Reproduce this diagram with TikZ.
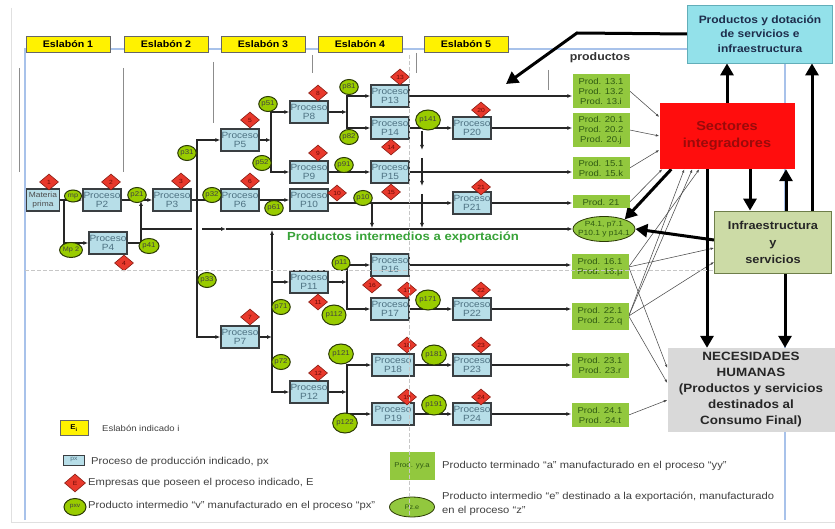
\documentclass[tikz,border=0pt]{standalone}
\usepackage{fontspec}
\setmainfont{Liberation Sans}[FakeStretch=1.12]
\usetikzlibrary{shapes.geometric,arrows.meta,calc}
\definecolor{procfill}{HTML}{B7DEE8}
\definecolor{proctext}{HTML}{4E7282}
\definecolor{procline}{HTML}{3A3F42}
\definecolor{intfill}{HTML}{99CC00}
\definecolor{intline}{HTML}{2B3A05}
\definecolor{empfill}{HTML}{E8392C}
\definecolor{empline}{HTML}{8A1C12}
\definecolor{emptext}{HTML}{6A0A05}
\definecolor{prodfill}{HTML}{92C83E}
\definecolor{prodtext}{HTML}{2F5A12}
\definecolor{sectred}{HTML}{FF0D0D}
\definecolor{secttext}{HTML}{9A0A0A}
\definecolor{pdfill}{HTML}{93E1EA}
\definecolor{pdline}{HTML}{62AEB9}
\definecolor{pdtext}{HTML}{1E2D4C}
\definecolor{isfill}{HTML}{CCDBA6}
\definecolor{isline}{HTML}{6E7E4A}
\definecolor{nhfill}{HTML}{D9D9D9}
\definecolor{frameblue}{HTML}{A8C2EA}
\definecolor{expgreen}{HTML}{38A338}
\definecolor{sepgray}{HTML}{8C8C8C}
\definecolor{legtext}{HTML}{404040}
\pgfdeclarelayer{bg}\pgfdeclarelayer{fg}\pgfsetlayers{bg,main,fg}
\tikzset{
 proc/.style={draw=procline, line width=1.3pt, fill=procfill, minimum width=38pt, minimum height=22pt, inner sep=0pt, align=center, text=proctext, font=\fontsize{9}{9.5}\selectfont},
 emp/.style={diamond, draw=empline, line width=0.6pt, fill=empfill, minimum width=19pt, minimum height=16pt, inner sep=0pt, text=emptext, font=\fontsize{6}{6}\selectfont},
 intp/.style={ellipse, draw=intline, line width=1pt, fill=intfill, minimum width=18pt, minimum height=15pt, inner sep=0pt, text=black!75, font=\fontsize{7}{7}\selectfont},
 intpL/.style={intp, minimum width=24pt, minimum height=20pt},
 prodbox/.style={fill=prodfill, minimum width=57pt, inner sep=1.5pt, align=center, text=prodtext, font=\fontsize{8.5}{10}\selectfont},
 eslab/.style={draw=black!60, line width=0.8pt, fill=yellow, minimum width=84pt, minimum height=16pt, inner sep=0pt, font=\bfseries\fontsize{9.5}{10}\selectfont},
 arr/.style={line width=1.1pt, draw=black!85, -{Latex[length=5pt,width=4pt]}},
 ln/.style={line width=1.1pt, draw=black!85},
 thinarr/.style={line width=0.55pt, draw=black!70, -{Latex[length=3.5pt,width=2.5pt]}},
 big/.style={line width=3pt, draw=black, -{Triangle[length=12pt,width=13pt]}},
 sep/.style={line width=0.9pt, draw=sepgray},
 guide/.style={line width=0.8pt, draw=black!22, dash pattern=on 4pt off 2pt},
 legt/.style={anchor=west, text=legtext, inner sep=0pt, font=\fontsize{10}{14}\selectfont, align=left},
}
\begin{document}
\begin{tikzpicture}[x=1pt,y=-1pt]
\useasboundingbox (0,0) rectangle (835,529);

% ---------- Eslabones ----------
\node[eslab] (E1) at (68,44) {Eslabón 1};
\node[eslab] (E2) at (166,44) {Eslabón 2};
\node[eslab] (E3) at (263,44) {Eslabón 3};
\node[eslab] (E4) at (360,44) {Eslabón 4};
\node[eslab] (E5) at (466,44) {Eslabón 5};

% ---------- processes ----------
\node[proc, minimum width=33pt, text=black!70, font=\fontsize{7.5}{8.5}\selectfont] (MP) at (43,200) {Materia\\prima};
\node[proc] (P2) at (102,200) {Proceso\\P2};
\node[proc] (P3) at (172,200) {Proceso\\P3};
\node[proc] (P4) at (108,243) {Proceso\\P4};
\node[proc] (P5) at (240,140) {Proceso\\P5};
\node[proc] (P6) at (240,200) {Proceso\\P6};
\node[proc] (P7) at (240,337) {Proceso\\P7};
\node[proc] (P8) at (309,112) {Proceso\\P8};
\node[proc] (P9) at (309,172) {Proceso\\P9};
\node[proc] (P10) at (309,200) {Proceso\\P10};
\node[proc] (P11) at (309,282) {Proceso\\P11};
\node[proc] (P12) at (309,392) {Proceso\\P12};
\node[proc] (P13) at (390,96) {Proceso\\P13};
\node[proc] (P14) at (390,128) {Proceso\\P14};
\node[proc] (P15) at (390,172) {Proceso\\P15};
\node[proc] (P16) at (390,265) {Proceso\\P16};
\node[proc] (P17) at (390,309) {Proceso\\P17};
\node[proc, minimum width=42pt] (P18) at (393,365) {Proceso\\P18};
\node[proc, minimum width=42pt] (P19) at (393,414) {Proceso\\P19};
\node[proc] (P20) at (472,128) {Proceso\\P20};
\node[proc] (P21) at (472,203) {Proceso\\P21};
\node[proc] (P22) at (472,309) {Proceso\\P22};
\node[proc] (P23) at (472,365) {Proceso\\P23};
\node[proc] (P24) at (472,414) {Proceso\\P24};

% ---------- intermediate products ----------
\node[intp, minimum width=17pt, minimum height=12pt, font=\fontsize{6.5}{6.5}\selectfont] (imp) at (73,196) {mp};
\node[intp, minimum width=22pt, font=\fontsize{6.5}{6.5}\selectfont] (imp2) at (71,250) {Mp 2};
\node[intp] (i21) at (137,195) {p21};
\node[intp, minimum width=20pt] (i41) at (149,246) {p41};
\node[intp] (i31) at (187,153) {p31};
\node[intp] (i32) at (212,195) {p32};
\node[intp] (i33) at (207,280) {p33};
\node[intp] (i51) at (268,104) {p51};
\node[intp] (i52) at (262,163) {p52};
\node[intp] (i61) at (274,208) {p61};
\node[intp] (i71) at (281,307) {p71};
\node[intp] (i72) at (281,362) {p72};
\node[intp] (i81) at (349,87) {p81};
\node[intp] (i82) at (349,137) {p82};
\node[intp] (i91) at (344,165) {p91};
\node[intp] (i10) at (363,198) {p10};
\node[intp] (i11) at (341,263) {p11};
\node[intpL] (i112) at (334,315) {p112};
\node[intpL] (i121) at (341,354) {p121};
\node[intpL] (i122) at (345,423) {p122};
\node[intpL] (i141) at (428,120) {p141};
\node[intpL] (i171) at (428,300) {p171};
\node[intpL] (i181) at (434,355) {p181};
\node[intpL] (i191) at (434,405) {p191};

% ---------- firms (diamonds) ----------
\node[emp] (d1) at (49,182) {1};
\node[emp] (d2) at (111,182) {2};
\node[emp] (d3) at (181,181) {3};
\node[emp] (d4) at (124,263) {4};
\node[emp] (d5) at (250,120) {5};
\node[emp] (d6) at (250,181) {6};
\node[emp] (d7) at (250,317) {7};
\node[emp] (d8) at (318,93) {8};
\node[emp] (d9) at (318,153) {9};
\node[emp] (d10) at (337,193) {10};
\node[emp] (d11) at (318,302) {11};
\node[emp] (d12) at (318,373) {12};
\node[emp] (d13) at (400,77) {13};
\node[emp] (d14) at (391,147) {14};
\node[emp] (d15) at (391,192) {15};
\node[emp] (d16) at (372,285) {16};
\node[emp] (d17) at (407,290) {17};
\node[emp] (d18) at (407,345) {18};
\node[emp] (d19) at (407,397) {19};
\node[emp] (d20) at (481,110) {20};
\node[emp] (d21) at (481,187) {21};
\node[emp] (d22) at (481,290) {22};
\node[emp] (d23) at (481,345) {23};
\node[emp] (d24) at (481,397) {24};

% ---------- final products ----------
\node[font=\bfseries\fontsize{11}{11}\selectfont, text=black!80] (prodlbl) at (600,58) {productos};
\node[prodbox, minimum height=34pt] (PR13) at (601,91) {Prod. 13.1\\Prod. 13.2\\Prod. 13.i};
\node[prodbox, minimum height=34pt] (PR20) at (601,130) {Prod. 20.1\\Prod. 20.2\\Prod. 20.j};
\node[prodbox, minimum height=22pt] (PR15) at (601,168) {Prod. 15.1\\Prod. 15.k};
\node[prodbox, minimum height=13pt] (PR21) at (601,202) {Prod. 21};
\node[ellipse, draw=intline, line width=0.8pt, fill=prodfill, minimum width=62pt, minimum height=25pt, inner xsep=-4pt, inner ysep=0pt, align=center, text=prodtext, font=\fontsize{7.5}{8.5}\selectfont] (EXP) at (604,229) {P4.1, p7.1\\P10.1 y p14.1};
\node[prodbox, minimum height=25pt] (PR16) at (600,267) {Prod. 16.1\\Prod. 16.μ};
\node[prodbox, minimum height=27pt] (PR22) at (600,316) {Prod. 22.1\\Prod. 22.q};
\node[prodbox, minimum height=25pt] (PR23) at (600,365) {Prod. 23.1\\Prod. 23.r};
\node[prodbox, minimum height=24pt] (PR24) at (600,415) {Prod. 24.1\\Prod. 24.t};

% ---------- export label ----------
\node[text=expgreen, font=\bfseries\fontsize{11.7}{12}\selectfont, inner sep=0pt] (EXPT) at (403,237) {Productos intermedios a exportación};

% ---------- big boxes ----------
\node[draw=pdline, line width=0.8pt, fill=pdfill, minimum width=145pt, minimum height=58pt, align=center, text=pdtext, font=\bfseries\fontsize{10.7}{14.5}\selectfont] (PD) at (760,34) {Productos y dotación\\de servicios e\\infraestructura};
\node[fill=sectred, minimum width=135pt, minimum height=66pt, align=center, text=secttext, font=\bfseries\fontsize{13}{17}\selectfont] (SI) at (727,136) {Sectores\\integradores};
\node[draw=isline, line width=0.8pt, fill=isfill, minimum width=117pt, minimum height=62pt, align=center, text=black!85, font=\bfseries\fontsize{11.4}{17}\selectfont] (IS) at (773,242) {Infraestructura\\y\\servicios};
\node[fill=nhfill, minimum width=167pt, minimum height=84pt, align=center, text=black!85, font=\bfseries\fontsize{12}{16}\selectfont] (NH) at (751,390) {NECESIDADES\\HUMANAS\\(Productos y servicios\\destinados al\\Consumo Final)};

% ---------- legend ----------
\node[draw=black!60, line width=0.6pt, fill=yellow, minimum width=28pt, minimum height=15pt, inner sep=0pt, font=\bfseries\fontsize{7}{7}\selectfont] (LE) at (74,428) {E\textsubscript{i}};
\node[legt, font=\fontsize{8.5}{9}\selectfont] (LEt) at (102,428) {Eslabón indicado i};
\node[proc, minimum width=21pt, minimum height=10pt, line width=0.8pt, font=\fontsize{6}{6}\selectfont] (LP) at (74,460) {px};
\node[legt] (LPt) at (91,462) {Proceso de producción indicado, px};
\node[emp, minimum width=21pt, minimum height=18pt] (LD) at (75,483) {E};
\node[legt] (LDt) at (88,483) {Empresas que poseen el proceso indicado, E};
\node[intp, minimum width=22pt, minimum height=17pt, font=\fontsize{6}{6}\selectfont] (LC) at (75,507) {pxv};
\node[legt] (LCt) at (88,506) {Producto intermedio “v” manufacturado en el proceso “px”};
\node[prodbox, minimum width=45pt, minimum height=28pt, font=\fontsize{7}{8}\selectfont, inner sep=0pt] (LPR) at (412,466) {Prod. yy.a};
\node[legt] (LPRt) at (442,466) {Producto terminado “a” manufacturado en el proceso “yy”};
\node[ellipse, draw=intline, line width=0.8pt, fill=prodfill, minimum width=45pt, minimum height=20pt, inner sep=0pt, text=prodtext, font=\fontsize{6.5}{7}\selectfont] (LEX) at (412,507) {Pz.e};
\node[legt] (LEXt) at (442,504) {Producto intermedio “e” destinado a la exportación, manufacturado\\en el proceso “z”};

% ---------- connectors ----------
\begin{pgfonlayer}{bg}
\fill[white] (0,0) rectangle (835,529);
\draw[black!12, line width=1pt] (11,8) -- (11,522) -- (835,522);
\draw[frameblue, line width=1.2pt] (25,520) -- (25,49) -- (785,49) -- (785,520);
\draw[sep] (19,68) -- (19,172);
\draw[sep] (123,68) -- (123,172);
\draw[sep] (213,62) -- (213,123);
\draw[sep] (312,55) -- (312,73);
\draw[sep] (416,53) -- (416,73);
\draw[sep] (548,70) -- (548,90);

\coordinate (s1) at (64,200);
\coordinate (s2) at (141,201);
\coordinate (s3) at (197,200);
\coordinate (s5) at (271,140);
\coordinate (s7) at (272,337);
\coordinate (x7) at (272,230);
\coordinate (s8) at (347,112);
\coordinate (s10) at (372,203);
\coordinate (x10) at (372,228);
\coordinate (s11) at (347,282);
\coordinate (s12) at (347,392);
\coordinate (x0) at (141,229);
\coordinate (x1) at (192,229);
\coordinate (x2) at (202,229);
\coordinate (xm) at (226,229);
\coordinate (q0) at (422,131);
\coordinate (q1) at (422,150);
\coordinate (q1b) at (422,158);
\coordinate (q2) at (422,186);
\coordinate (q2b) at (422,194);
\coordinate (q3) at (422,228);

\draw[arr] (MP.east) -- (P2.west);
\draw[arr] (s1) |- (P4.west);
\draw[arr] (P2.east) -- (P3.west);
\draw[arr] (P4.east) -| (s2);
\draw[arr] (P3.east) -- (P6.west);
\draw[arr] (s3) |- (P5.west);
\draw[arr] (s3) |- (P7.west);
\draw[ln] (x0) -- (x1);
\draw[arr] (x2) -- (xm);
\draw[arr] (xm) -- (EXP.west);

\draw[arr] (P5.east) -- (s5);
\draw[arr] (s5) |- (P8.west);
\draw[arr] (s5) |- (P9.west);
\draw[arr] (P6.east) -- (P10.west);
\draw[arr] (P7.east) -- (s7);
\draw[arr] (s7) |- (P11.west);
\draw[arr] (s7) |- (P12.west);
\draw[arr] (s7) -- (x7);

\draw[arr] (P8.east) -- (s8);
\draw[arr] (s8) |- (P13.west);
\draw[arr] (s8) |- (P14.west);
\draw[arr] (P9.east) -- (P15.west);
\draw[arr] (P10.east |- P21.west) -- (P21.west);
\draw[arr] (s10) -- (x10);

\draw[arr] (P13.east) -- (P13.east -| PR13.west);
\draw[arr] (P14.east) -- (P20.west);
\draw[arr] (P20.east) -- (P20.east -| PR20.west);
\draw[arr] (P15.east) -- (P15.east -| PR15.west);
\draw[arr] (P21.east) -- (P21.east -| PR21.west);
\draw[arr] (q0) -- (q1);
\draw[arr] (q1b) -- (q2);
\draw[arr] (q2b) -- (q3);

\draw[arr] (P11.east) -- (s11);
\draw[arr] (s11) |- (P16.west);
\draw[arr] (s11) |- (P17.west);
\draw[arr] (P16.east) -- (P16.east -| PR16.west);
\draw[arr] (P17.east) -- (P22.west);
\draw[arr] (P22.east) -- (P22.east -| PR22.west);
\draw[arr] (P12.east) -- (s12);
\draw[arr] (s12) |- (P18.west);
\draw[arr] (s12) |- (P19.west);
\draw[arr] (P18.east) -- (P23.west);
\draw[arr] (P23.east) -- (P23.east -| PR23.west);
\draw[arr] (P19.east) -- (P24.west);
\draw[arr] (P24.east) -- (P24.east -| PR24.west);

% thin links to the right-hand boxes
\draw[thinarr] (PR13.east) -- ([yshift=19pt]SI.west);
\draw[thinarr] (PR20.east) -- (SI.west);
\draw[thinarr] (PR15.east) -- ([yshift=-14pt]SI.west);
\draw[thinarr] (PR21.east) -- ([xshift=3pt]SI.south west);
\draw[thinarr] (PR16.east) -- ([xshift=40pt]SI.south west);
\draw[thinarr] (PR22.east) -- ([xshift=25pt]SI.south west);
\draw[thinarr] (PR22.east) -- ([xshift=33pt]SI.south west);
\draw[thinarr] (PR16.east) -- ([yshift=-6pt]IS.west);
\draw[thinarr] (PR22.east) -- ([yshift=-20pt]IS.west);
\draw[thinarr] (PR16.east) -- ([yshift=22pt]NH.west);
\draw[thinarr] (PR22.east) -- ([yshift=7pt]NH.west);
\draw[thinarr] (PR24.east) -- ([yshift=-10pt]NH.west);

% thick arrows
\coordinate (c1) at (577,33);
\coordinate (c2) at (506,84);
\coordinate (t1) at ([xshift=23pt]SI.south);
\coordinate (t2) at ([xshift=13pt]IS.north);
\coordinate (t3) at ([xshift=-20pt]SI.south);
\coordinate (t4) at ([xshift=12pt]IS.south);
\coordinate (t5) at ([xshift=39pt]IS.north);
\coordinate (t6) at ([xshift=12pt]SI.south west);
\draw[big] (PD.west) -- (c1) -- (c2);
\draw[big] (SI.north) -- (SI.north |- PD.south);
\draw[big] (t5) -- (t5 |- PD.south);
\draw[big] (t1) -- (t1 |- IS.north);
\draw[big] (t2) -- (t2 |- SI.south);
\draw[big] (t3) -- (t3 |- NH.north);
\draw[big] (t4) -- (t4 |- NH.north);
\draw[big] (t6) -- (EXP.25);
\draw[big] ([yshift=2pt]IS.west) -- (EXP.east);
\end{pgfonlayer}

\begin{pgfonlayer}{fg}
\draw[guide] (25,270) -- (714,270);
\draw[guide] (409,55) -- (409,518);
\end{pgfonlayer}
\end{tikzpicture}
\end{document}
